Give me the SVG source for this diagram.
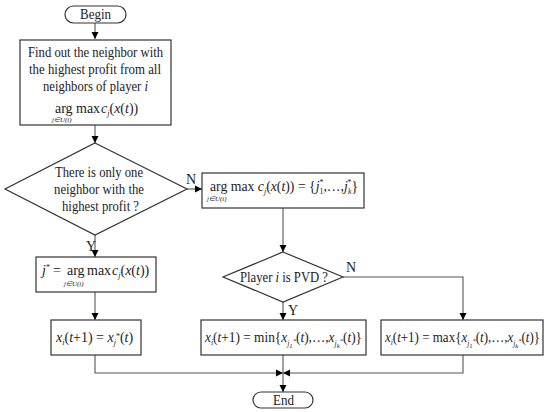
<svg xmlns="http://www.w3.org/2000/svg" width="550" height="412" viewBox="0 0 550 412">
<defs>
<marker id="ah" markerWidth="8" markerHeight="8" refX="7" refY="4" orient="auto" markerUnits="userSpaceOnUse">
<path d="M0,0.5 L7,4 L0,7.5 Z" fill="#000"/>
</marker>
<style>
.s{fill:#fff;stroke:#333;stroke-width:1.2}
.c{fill:none;stroke:#555;stroke-width:1.1}
.t{font-family:"Liberation Serif","Times New Roman",serif;font-size:14px;fill:#222}
.m{text-anchor:middle}
.i{font-style:italic}
.sub{font-size:8px}
.tiny{font-size:7px;font-style:italic}
</style>
</defs>
<rect width="550" height="412" fill="#fff"/>
<g id="connectors">
<line class="c" x1="95" y1="23" x2="95" y2="39" marker-end="url(#ah)"/>
<line class="c" x1="95" y1="125" x2="95" y2="143" marker-end="url(#ah)"/>
<line class="c" x1="187" y1="189" x2="202" y2="189" marker-end="url(#ah)"/>
<line class="c" x1="95" y1="235" x2="95" y2="257" marker-end="url(#ah)"/>
<line class="c" x1="95" y1="292" x2="95" y2="320" marker-end="url(#ah)"/>
<line class="c" x1="283" y1="208" x2="283" y2="252" marker-end="url(#ah)"/>
<polyline class="c" points="343,277 463,277 463,320" marker-end="url(#ah)"/>
<line class="c" x1="283" y1="302" x2="283" y2="320" marker-end="url(#ah)"/>
<polyline class="c" points="95,355 95,373 283,373" marker-end="url(#ah)"/>
<polyline class="c" points="463,355 463,373 283,373" marker-end="url(#ah)"/>
<line class="c" x1="283" y1="355" x2="283" y2="392" marker-end="url(#ah)"/>
<text class="t" x="186" y="184">N</text>
<text class="t" x="86" y="251">Y</text>
<text class="t" x="346" y="272">N</text>
<text class="t" x="288" y="315">Y</text>
</g>
<g id="begin">
<rect class="s" x="65" y="6" width="61" height="17" rx="8.5"/>
<text class="t" x="80" y="19" textLength="31" lengthAdjust="spacingAndGlyphs">Begin</text>
</g>
<g id="find">
<rect class="s" x="20" y="40" width="151" height="85"/>
<text class="t" x="28" y="57" textLength="135" lengthAdjust="spacingAndGlyphs">Find out the neighbor with</text>
<text class="t" x="29" y="74" textLength="132" lengthAdjust="spacingAndGlyphs">the highest profit from all</text>
<text class="t" x="43" y="91" textLength="105" lengthAdjust="spacingAndGlyphs">neighbors of player <tspan class="i">i</tspan></text>
<text class="t" x="55" y="113">arg<tspan x="76">max</tspan><tspan class="i" x="101">c</tspan><tspan class="i sub" dy="3">j</tspan><tspan dy="-3">(</tspan><tspan class="i">x</tspan>(<tspan class="i">t</tspan>))</text>
<text class="t tiny" x="52" y="122">j∈U(i)</text>
</g>
<g id="only-one">
<polygon class="s" points="95,143 187,189 95,235 5,189"/>
<text class="t" x="55" y="177" textLength="88" lengthAdjust="spacingAndGlyphs">There is only one</text>
<text class="t" x="54" y="194" textLength="90" lengthAdjust="spacingAndGlyphs">neighbor with the</text>
<text class="t" x="62" y="211" textLength="77" lengthAdjust="spacingAndGlyphs">highest profit ?</text>
</g>
<g id="argset">
<rect class="s" x="202" y="173" width="162" height="35"/>
<text class="t" x="210" y="191" textLength="148" lengthAdjust="spacingAndGlyphs">arg  max <tspan class="i">c</tspan><tspan class="i sub" dy="3">j</tspan><tspan dy="-3">(</tspan><tspan class="i">x</tspan>(<tspan class="i">t</tspan>)) = {<tspan class="i">j</tspan><tspan class="sub" dy="3">1</tspan><tspan class="sub" dx="-4" dy="-9">*</tspan><tspan dy="6">,…,</tspan><tspan class="i">j</tspan><tspan class="i sub" dy="3">k</tspan><tspan class="sub" dx="-4" dy="-9">*</tspan><tspan dy="6">}</tspan></text>
<text class="t tiny" x="207" y="201">j∈U(i)</text>
</g>
<g id="jstar">
<rect class="s" x="36" y="257" width="120" height="35"/>
<text class="t" x="42" y="275"><tspan class="i">j</tspan><tspan class="sub" dy="-5">*</tspan><tspan x="53" dy="5">=</tspan><tspan x="67">arg</tspan><tspan x="87">max</tspan><tspan class="i" x="112">c</tspan><tspan class="i sub" dy="3">j</tspan><tspan dy="-3">(</tspan><tspan class="i">x</tspan>(<tspan class="i">t</tspan>))</text>
<text class="t tiny" x="64" y="286">j∈U(i)</text>
</g>
<g id="update-single">
<rect class="s" x="51" y="320" width="90" height="35"/>
<text class="t" x="56" y="342"><tspan class="i">x</tspan><tspan class="i sub" dy="3">i</tspan><tspan dy="-3">(</tspan><tspan class="i">t</tspan>+1) = <tspan class="i">x</tspan><tspan class="i sub" dy="3">j</tspan><tspan class="sub" dy="-6">*</tspan><tspan dy="3">(</tspan><tspan class="i">t</tspan>)</text>
</g>
<g id="pvd">
<polygon class="s" points="283,252 343,277 283,302 223,277"/>
<text class="t" x="240" y="282" textLength="88" lengthAdjust="spacingAndGlyphs">Player <tspan class="i">i</tspan> is PVD ?</text>
</g>
<g id="update-min">
<rect class="s" x="201" y="320" width="165" height="35"/>
<text class="t" x="205" y="342" textLength="157" lengthAdjust="spacingAndGlyphs"><tspan class="i">x</tspan><tspan class="i sub" dy="3">i</tspan><tspan dy="-3">(</tspan><tspan class="i">t</tspan>+1) = min{<tspan class="i">x</tspan><tspan class="i sub" dy="4">j</tspan><tspan class="tiny" dy="2">1</tspan><tspan class="tiny" dy="-5">*</tspan><tspan dy="-1">(</tspan><tspan class="i">t</tspan>),…,<tspan class="i">x</tspan><tspan class="i sub" dy="4">j</tspan><tspan class="tiny" dy="2">k</tspan><tspan class="tiny" dy="-5">*</tspan><tspan dy="-1">(</tspan><tspan class="i">t</tspan>)}</text>
</g>
<g id="update-max">
<rect class="s" x="381" y="320" width="162" height="35"/>
<text class="t" x="385" y="342" textLength="155" lengthAdjust="spacingAndGlyphs"><tspan class="i">x</tspan><tspan class="i sub" dy="3">i</tspan><tspan dy="-3">(</tspan><tspan class="i">t</tspan>+1) = max{<tspan class="i">x</tspan><tspan class="i sub" dy="4">j</tspan><tspan class="tiny" dy="2">1</tspan><tspan class="tiny" dy="-5">*</tspan><tspan dy="-1">(</tspan><tspan class="i">t</tspan>),…,<tspan class="i">x</tspan><tspan class="i sub" dy="4">j</tspan><tspan class="tiny" dy="2">k</tspan><tspan class="tiny" dy="-5">*</tspan><tspan dy="-1">(</tspan><tspan class="i">t</tspan>)}</text>
</g>
<g id="end">
<rect class="s" x="253" y="392" width="60" height="16" rx="8"/>
<text class="t" x="273" y="405" textLength="21" lengthAdjust="spacingAndGlyphs">End</text>
</g>
</svg>
